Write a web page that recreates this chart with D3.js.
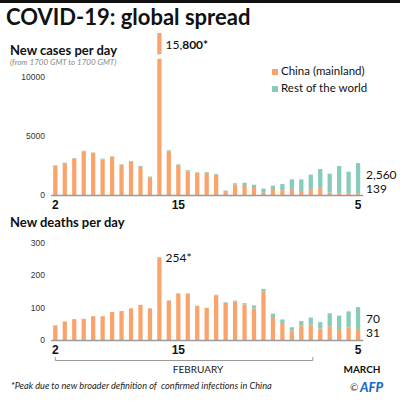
<!DOCTYPE html>
<html>
<head>
<meta charset="utf-8">
<script src="https://cdn.jsdelivr.net/npm/d3@7"></script>
<style>
  body { margin: 0; background: #fff; }
  svg { font-family: Lato, "Open Sans", sans-serif; }
  .tickLabel text { font-size: 12px; font-weight: bold; fill: #111; }
  .yAxis text { font-size: 8.5px; fill: #333; }
</style>
</head>
<body>
<div id="chart"></div>
<script>
// 1. Data (Feb 2 -> Mar 5, one bar per day)
var dayLabels = ["2","3","4","5","6","7","8","9","10","11","12","13","14","15","16","17","18","19","20","21","22","23","24","25","26","27","28","29","1","2","3","4","5"];
var shownTicks = [0, 13, 32];

var chinaCases = [2500, 2700, 3100, 3700, 3550, 3000, 3250, 2550, 2850, 2380, 1500, 15740, 3700, 2550, 2000, 1900, 1850, 1720, 250, 890, 760, 590, 200, 430, 400, 430, 330, 430, 570, 200, 125, 120, 139];
var worldCases = [20, 30, 30, 40, 40, 80, 30, 40, 30, 80, 60, 60, 80, 40, 100, 30, 80, 60, 120, 100, 280, 280, 340, 360, 530, 890, 990, 1290, 1630, 1600, 2325, 1850, 2560];

var chinaDeaths = [45, 57, 64, 65, 73, 73, 86, 89, 97, 108, 97, 254, 121, 143, 142, 105, 98, 136, 114, 118, 109, 97, 150, 71, 52, 29, 44, 47, 35, 42, 31, 38, 31];
var worldDeaths = [0, 0, 0, 0, 0, 0, 0, 0, 0, 0, 0, 0, 1, 0, 1, 0, 1, 3, 2, 3, 4, 9, 7, 10, 11, 10, 14, 22, 20, 40, 44, 50, 70];

var caseTicks = [0, 5000, 10000];
var deathTicks = [0, 100, 200, 300];

var colors = {china: "#f9a46c", world: "#87cbb8"};

// 2. SVG
var svgWidth = 400;
var svgHeight = 401;

var svg = d3.select("#chart").append("svg")
    .attr("width", svgWidth)
    .attr("height", svgHeight);

svg.append("rect")
    .attr("width", svgWidth)
    .attr("height", 3)
    .attr("fill", "#111");

svg.append("text")
    .attr("x", 6)
    .attr("y", 25)
    .attr("font-size", "22px")
    .attr("font-weight", "bold")
    .attr("fill", "#111")
    .text("COVID-19: global spread");

// 3. Shared x scale
var xBand = d3.scaleBand()
    .domain(d3.range(dayLabels.length))
    .range([50.6, 362.8])
    .paddingInner(0.55)
    .paddingOuter(0.275);

var stack = d3.stack().keys(["china", "world"]);

function drawPanel(opts) {
  var rows = opts.china.map(function(v, i) {
    return {i: i, china: v, world: opts.world[i]};
  });

  var y = d3.scaleLinear()
      .domain(opts.domain)
      .range([opts.base, opts.top])
      .clamp(true);

  var g = svg.append("g");

  // y axis labels
  g.append("g")
      .attr("class", "yAxis")
      .attr("transform", "translate(48,0)")
      .call(d3.axisLeft(y).tickValues(opts.ticks).tickSize(0).tickPadding(3).tickFormat(d3.format("d")))
      .call(function(a) { a.select(".domain").remove(); });

  // stacked bars
  g.selectAll(".layer")
      .data(stack(rows))
      .enter()
      .append("g")
      .attr("fill", function(d) { return colors[d.key]; })
      .selectAll("rect")
      .data(function(d) { return d; })
      .enter()
      .append("rect")
      .attr("x", function(d) { return xBand(d.data.i); })
      .attr("width", xBand.bandwidth())
      .attr("y", function(d) { return y(d[1]); })
      .attr("height", function(d) { return Math.max(0, y(d[0]) - y(d[1])); });

  // x axis
  var xAxis = d3.axisBottom(xBand)
      .tickValues(shownTicks)
      .tickSize(0)
      .tickSizeOuter(0)
      .tickPadding(5)
      .tickFormat(function(i) { return dayLabels[i]; });

  g.append("g")
      .attr("class", "tickLabel")
      .attr("transform", "translate(0," + opts.base + ")")
      .call(xAxis)
      .call(function(a) {
        a.select(".domain").attr("stroke", "#9a9a9a").attr("stroke-width", 1.5);
      });

  return {g: g, y: y};
}

// 4. New cases panel
svg.append("text")
    .attr("x", 10).attr("y", 55)
    .attr("font-size", "13px").attr("font-weight", "bold").attr("fill", "#111")
    .text("New cases per day");

svg.append("text")
    .attr("x", 10).attr("y", 65)
    .attr("font-size", "8px").attr("font-style", "italic").attr("fill", "#888")
    .text("(from 1700 GMT to 1700 GMT)");

var cases = drawPanel({china: chinaCases, world: worldCases, domain: [0, 13700],
  base: 195, top: 33, ticks: caseTicks});

// break in the truncated peak bar
var peakIdx = 11;
var px = xBand(peakIdx);
cases.g.append("polygon")
    .attr("points", [[px - 2, 55], [px + xBand.bandwidth() + 2, 53.5],
      [px + xBand.bandwidth() + 2, 58], [px - 2, 59.5]].join(" "))
    .attr("fill", "#fff");

var peakLabel = cases.g.append("text")
    .attr("x", px + xBand.bandwidth() + 4)
    .attr("y", 49)
    .attr("font-size", "12px")
    .attr("fill", "#111");
peakLabel.append("tspan").text("15,");
peakLabel.append("tspan").attr("font-weight", "bold")
    .text(d3.format(",")(chinaCases[peakIdx] + worldCases[peakIdx]).split(",")[1] + "*");

// last-day values
var last = chinaCases.length - 1;
cases.g.append("text").attr("x", 366).attr("y", 179)
    .attr("font-size", "12px").attr("fill", "#111")
    .text(d3.format(",")(worldCases[last]));
cases.g.append("text").attr("x", 366).attr("y", 193)
    .attr("font-size", "12px").attr("fill", "#111")
    .text(chinaCases[last]);

// legend
var legendItems = [["china", "China (mainland)", 75], ["world", "Rest of the world", 92]];
legendItems.forEach(function(item) {
  svg.append("rect")
      .attr("x", 272).attr("y", item[2] - 6)
      .attr("width", 6).attr("height", 6)
      .attr("fill", colors[item[0]]);
  svg.append("text")
      .attr("x", 281).attr("y", item[2])
      .attr("font-size", "11.5px").attr("fill", "#111")
      .text(item[1]);
});

// 5. New deaths panel
svg.append("text")
    .attr("x", 10).attr("y", 227)
    .attr("font-size", "13px").attr("font-weight", "bold").attr("fill", "#111")
    .text("New deaths per day");

var deaths = drawPanel({china: chinaDeaths, world: worldDeaths, domain: [0, 300],
  base: 340, top: 242.3, ticks: deathTicks});

deaths.g.append("text")
    .attr("x", xBand(peakIdx) + xBand.bandwidth() + 4)
    .attr("y", 262)
    .attr("font-size", "12px").attr("fill", "#111")
    .text(chinaDeaths[peakIdx] + "*");

deaths.g.append("text").attr("x", 366).attr("y", 323)
    .attr("font-size", "12px").attr("fill", "#111")
    .text(worldDeaths[last]);
deaths.g.append("text").attr("x", 366).attr("y", 337)
    .attr("font-size", "12px").attr("fill", "#111")
    .text(chinaDeaths[last]);

// 6. Month bracket
var febStart = xBand(0) + xBand.bandwidth() / 2;
var febEnd = xBand(27) + xBand.bandwidth() / 2 + 2;
svg.append("path")
    .attr("d", "M" + febStart + ",357 V360.5 H" + febEnd + " V357")
    .attr("fill", "none")
    .attr("stroke", "#999")
    .attr("stroke-width", 1);

svg.append("text")
    .attr("x", 198).attr("y", 373)
    .attr("text-anchor", "middle")
    .attr("font-size", "10px").attr("fill", "#222")
    .text("FEBRUARY");

svg.append("text")
    .attr("x", 362).attr("y", 373)
    .attr("text-anchor", "middle")
    .attr("font-size", "10px").attr("font-weight", "bold").attr("fill", "#111")
    .text("MARCH");

// 7. Footnote and credit
svg.append("text")
    .attr("x", 11).attr("y", 389)
    .attr("font-size", "9.2px").attr("font-style", "italic").attr("fill", "#222")
    .style("white-space", "pre")
    .text("*Peak due to new broader definition of  confirmed infections in China");

svg.append("text")
    .attr("x", 350).attr("y", 391)
    .attr("font-size", "10px").attr("fill", "#444")
    .text("\u00a9");

svg.append("text")
    .attr("x", 360).attr("y", 392)
    .attr("font-size", "13px").attr("font-weight", "900").attr("font-style", "italic")
    .attr("fill", "#1d6bc4")
    .text("AFP");
</script>
</body>
</html>
